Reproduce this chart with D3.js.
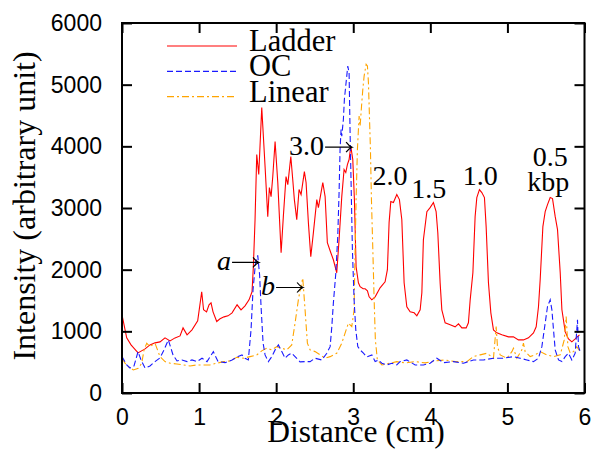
<!DOCTYPE html>
<html>
<head>
<meta charset="utf-8">
<script src="https://cdn.jsdelivr.net/npm/d3@7"></script>
<style>
  html, body { margin: 0; padding: 0; background: #fff; }
  svg { display: block; }
</style>
</head>
<body>
<svg id="chart" width="596" height="452"></svg>
<script>
// ---- Data (distance in cm, intensity in arbitrary units) ----
const ladderX = [0,0.061,0.117,0.208,0.299,0.363,0.428,0.493,0.558,0.623,0.688,0.753,0.792,0.844,0.908,0.982,1.034,1.058,1.097,1.129,1.155,1.181,1.229,1.272,1.324,1.376,1.428,1.493,1.544,1.596,1.648,1.687,1.704,1.726,1.748,1.774,1.813,1.856,1.891,1.912,1.934,1.956,1.986,2.021,2.064,2.093,2.128,2.151,2.190,2.215,2.236,2.267,2.297,2.323,2.366,2.388,2.418,2.449,2.483,2.527,2.548,2.605,2.635,2.664,2.709,2.742,2.786,2.816,2.851,2.881,2.903,2.924,2.946,2.968,2.994,3.015,3.037,3.067,3.089,3.128,3.154,3.184,3.206,3.241,3.284,3.348,3.413,3.443,3.465,3.487,3.521,3.565,3.599,3.630,3.660,3.695,3.738,3.790,3.825,3.868,3.890,3.910,3.955,3.997,4.040,4.075,4.097,4.127,4.149,4.192,4.257,4.322,4.365,4.409,4.465,4.494,4.517,4.552,4.581,4.603,4.637,4.668,4.702,4.724,4.754,4.785,4.819,4.863,4.928,5.014,5.078,5.143,5.208,5.273,5.338,5.373,5.403,5.425,5.460,5.490,5.520,5.555,5.585,5.620,5.650,5.685,5.707,5.750,5.792,5.836,5.879,5.905,5.935];
const ladderY = [1268,894,780,650,715,780,813,829,894,845,894,926,1056,943,1024,1170,1641,1349,1316,1430,1463,1316,1159,1203,1235,1251,1300,1430,1349,1414,1511,1641,2048,2811,3868,3543,4631,3673,2860,3331,3185,3510,4079,3413,2275,2860,3510,3380,3835,3461,3136,2811,3299,3218,3591,3413,2763,2210,2600,3136,3006,3413,3185,2438,2275,2161,1950,2486,3185,3624,3575,3705,3786,3998,3786,3136,2048,1788,1723,1690,1690,1658,1560,1511,1560,1706,1804,1999,2763,3104,3088,3218,3136,2811,1788,1398,1316,1300,1251,1349,1625,2486,2941,3006,3088,2941,2600,1788,1349,1138,1105,1073,1121,1056,1056,1138,1511,1950,2860,3169,3299,3250,3169,2698,1788,1300,1024,975,943,910,910,861,861,894,975,1073,1398,1836,2698,2941,3055,3169,3153,2860,2649,1950,1349,991,878,829,878,910,943];

const ocX = [0,0.061,0.104,0.156,0.208,0.247,0.299,0.363,0.428,0.493,0.545,0.601,0.662,0.714,0.779,0.844,0.908,0.973,1.038,1.103,1.185,1.246,1.337,1.428,1.506,1.557,1.596,1.639,1.674,1.700,1.733,1.761,1.785,1.804,1.830,1.856,1.899,1.943,1.986,2.029,2.073,2.116,2.158,2.202,2.245,2.310,2.375,2.440,2.505,2.592,2.657,2.700,2.722,2.742,2.774,2.799,2.816,2.829,2.842,2.851,2.872,2.885,2.907,2.929,2.946,2.959,2.972,2.989,3.011,3.033,3.059,3.089,3.132,3.176,3.241,3.284,3.326,3.371,3.435,3.500,3.565,3.608,3.695,3.803,3.910,3.997,4.084,4.170,4.300,4.430,4.559,4.689,4.819,4.949,5.078,5.165,5.252,5.338,5.403,5.447,5.490,5.520,5.555,5.577,5.598,5.620,5.663,5.707,5.750,5.792,5.836,5.879,5.909,5.922,5.944];
const ocY = [590,455,406,439,671,536,406,439,509,569,699,861,618,520,536,509,536,509,564,509,671,509,492,536,590,618,564,536,1024,1674,2129,2231,1918,1402,813,618,509,590,699,780,671,564,618,645,590,504,509,509,564,536,645,752,1077,1458,1945,2540,3245,3949,4274,4165,4436,4761,5033,5302,5195,4220,3408,2324,1511,1024,752,699,645,585,618,509,536,483,455,483,455,509,536,455,455,483,564,492,509,483,536,536,564,564,590,564,536,509,564,752,1133,1402,1511,1349,1024,699,536,509,590,645,536,645,1186,752,671];

const linearX = [0,0.039,0.082,0.147,0.212,0.256,0.286,0.321,0.363,0.428,0.493,0.558,0.623,0.710,0.796,0.883,0.969,1.055,1.142,1.229,1.315,1.402,1.489,1.574,1.661,1.748,1.813,1.878,1.943,2.008,2.073,2.138,2.202,2.245,2.288,2.317,2.345,2.375,2.405,2.440,2.505,2.570,2.635,2.700,2.786,2.851,2.894,2.937,2.981,3.011,3.024,3.037,3.054,3.076,3.089,3.106,3.124,3.141,3.167,3.184,3.197,3.210,3.223,3.236,3.254,3.271,3.287,3.313,3.371,3.478,3.565,3.673,3.803,3.933,4.062,4.192,4.322,4.474,4.559,4.646,4.733,4.819,4.854,4.871,4.906,4.993,5.058,5.078,5.122,5.187,5.208,5.230,5.295,5.360,5.425,5.512,5.598,5.685,5.737,5.762,5.785,5.815,5.857,5.900,5.944];
const linearY = [564,483,427,374,401,483,699,808,752,808,590,509,483,471,455,439,455,455,455,483,509,520,580,564,590,618,683,726,699,752,726,699,780,1133,1511,1706,1864,1349,808,699,671,618,564,590,645,808,970,1133,1077,1349,2324,3136,3949,4490,4327,4626,4924,5140,5330,5302,5033,4490,3949,3136,2324,1511,861,536,455,483,509,488,509,488,520,536,509,509,590,618,645,564,1077,752,618,564,671,726,564,699,808,671,590,618,671,618,590,618,861,1240,752,645,671,752,671];

const seriesNames = ["Ladder", "OC", "Linear"];
const xTicks = [0, 1, 2, 3, 4, 5, 6];
const yTicks = [0, 1000, 2000, 3000, 4000, 5000, 6000];

// annotation labels: [text, x (cm), y (intensity)]
const peakLabels = [["2.0", 3.478, 3380], ["1.5", 3.978, 3169], ["1.0", 4.646, 3380], ["0.5", 5.555, 3689], ["kbp", 5.529, 3271]];
// arrow annotations: [text, arrow-tip x, arrow-tip y]
const arrowLabels = [["3.0", 2.985, 3986], ["a", 1.778, 2117], ["b", 2.349, 1711]];

// ---- Layout ----
const svg = d3.select("#chart");
const L = 122, R = 584.5, T = 23, B = 393;
const x = d3.scaleLinear().domain([0, 6]).range([L, R]);
const y = d3.scaleLinear().domain([0, 6000]).range([B, T]);

const serif = "'Liberation Serif', 'DejaVu Serif', serif";
const sans = "'Liberation Sans', Arial, sans-serif";

const styles = [
  { color: "#ff0000", dash: null },
  { color: "#1a1aff", dash: "6,3" },
  { color: "#ffa500", dash: "7,3,2,3" }
];
const datasets = [
  d3.zip(ladderX, ladderY),
  d3.zip(ocX, ocY),
  d3.zip(linearX, linearY)
];

svg.append("defs").append("clipPath").attr("id", "clip")
  .append("rect").attr("x", L).attr("y", T).attr("width", R - L).attr("height", B - T);

const line = d3.line().x(d => x(d[0])).y(d => y(d[1]));

const plot = svg.append("g").attr("clip-path", "url(#clip)");
[0, 2, 1].forEach(i => {
  plot.append("path")
    .datum(datasets[i])
    .attr("fill", "none")
    .attr("stroke", styles[i].color)
    .attr("stroke-width", 1.1)
    .attr("stroke-dasharray", styles[i].dash)
    .attr("d", line);
});

// ---- Axes (ticks inward on all four sides) ----
const tickLen = 10;
const fmt = d3.format("d");
const axB = svg.append("g").attr("transform", `translate(0,${B})`)
  .call(d3.axisBottom(x).tickValues(xTicks).tickFormat(fmt).tickSizeInner(-tickLen).tickSizeOuter(0).tickPadding(16));
const axT = svg.append("g").attr("transform", `translate(0,${T})`)
  .call(d3.axisTop(x).tickValues(xTicks).tickSizeInner(-tickLen).tickSizeOuter(0).tickFormat(""));
const axL = svg.append("g").attr("transform", `translate(${L},0)`)
  .call(d3.axisLeft(y).tickValues(yTicks).tickFormat(fmt).tickSizeInner(-tickLen).tickSizeOuter(0).tickPadding(20));
const axR = svg.append("g").attr("transform", `translate(${R},0)`)
  .call(d3.axisRight(y).tickValues(yTicks).tickSizeInner(-tickLen).tickSizeOuter(0).tickFormat(""));

[axB, axT, axL, axR].forEach(a => {
  a.select(".domain").remove();
  a.selectAll(".tick line").attr("stroke", "#000").attr("stroke-width", 2);
  a.selectAll("text").attr("font-family", sans).attr("font-size", 23).attr("fill", "#000");
});
axB.selectAll("text").attr("dy", "0.71em");

svg.append("rect").attr("x", L).attr("y", T).attr("width", R - L).attr("height", B - T)
  .attr("fill", "none").attr("stroke", "#000").attr("stroke-width", 2);

// ---- Axis titles ----
svg.append("text").attr("x", 356).attr("y", 442).attr("text-anchor", "middle")
  .attr("font-family", serif).attr("font-size", 31.5).attr("fill", "#000")
  .text("Distance (cm)");
svg.append("text").attr("transform", "translate(35,206) rotate(-90)").attr("text-anchor", "middle")
  .attr("font-family", serif).attr("font-size", 32).attr("fill", "#000")
  .text("Intensity (arbitrary unit)");

// ---- Legend ----
const leg = svg.append("g");
seriesNames.forEach((name, i) => {
  const yy = 46 + i * 25.3;
  leg.append("line").attr("x1", 167).attr("x2", 237).attr("y1", yy).attr("y2", yy)
    .attr("stroke", styles[i].color).attr("stroke-width", 1.2)
    .attr("stroke-dasharray", styles[i].dash);
  leg.append("text").attr("x", 249).attr("y", 50.5 + i * 25.6)
    .attr("font-family", serif).attr("font-size", 30.5).attr("fill", "#000").text(name);
});

// ---- Peak labels ----
peakLabels.forEach(([t, px, py]) => {
  svg.append("text").attr("x", x(px)).attr("y", y(py)).attr("text-anchor", "middle")
    .attr("font-family", serif).attr("font-size", 28).attr("fill", "#000").text(t);
});

// ---- Arrow labels ----
arrowLabels.forEach(([t, tx, ty]) => {
  const xe = x(tx), ye = y(ty);
  const xs = xe - 27;
  svg.append("path")
    .attr("d", `M${xs},${ye}L${xe},${ye}M${xe - 6},${ye - 5}Q${xe - 3},${ye - 1} ${xe},${ye}Q${xe - 3},${ye + 1} ${xe - 6},${ye + 5}`)
    .attr("fill", "none").attr("stroke", "#000").attr("stroke-width", 1.2);
  const italic = t.length === 1;
  svg.append("text").attr("x", xs - 1).attr("y", ye + 7.5).attr("text-anchor", "end")
    .attr("font-family", serif).attr("font-size", 28)
    .attr("font-style", italic ? "italic" : "normal").attr("fill", "#000").text(t);
});
</script>
</body>
</html>
